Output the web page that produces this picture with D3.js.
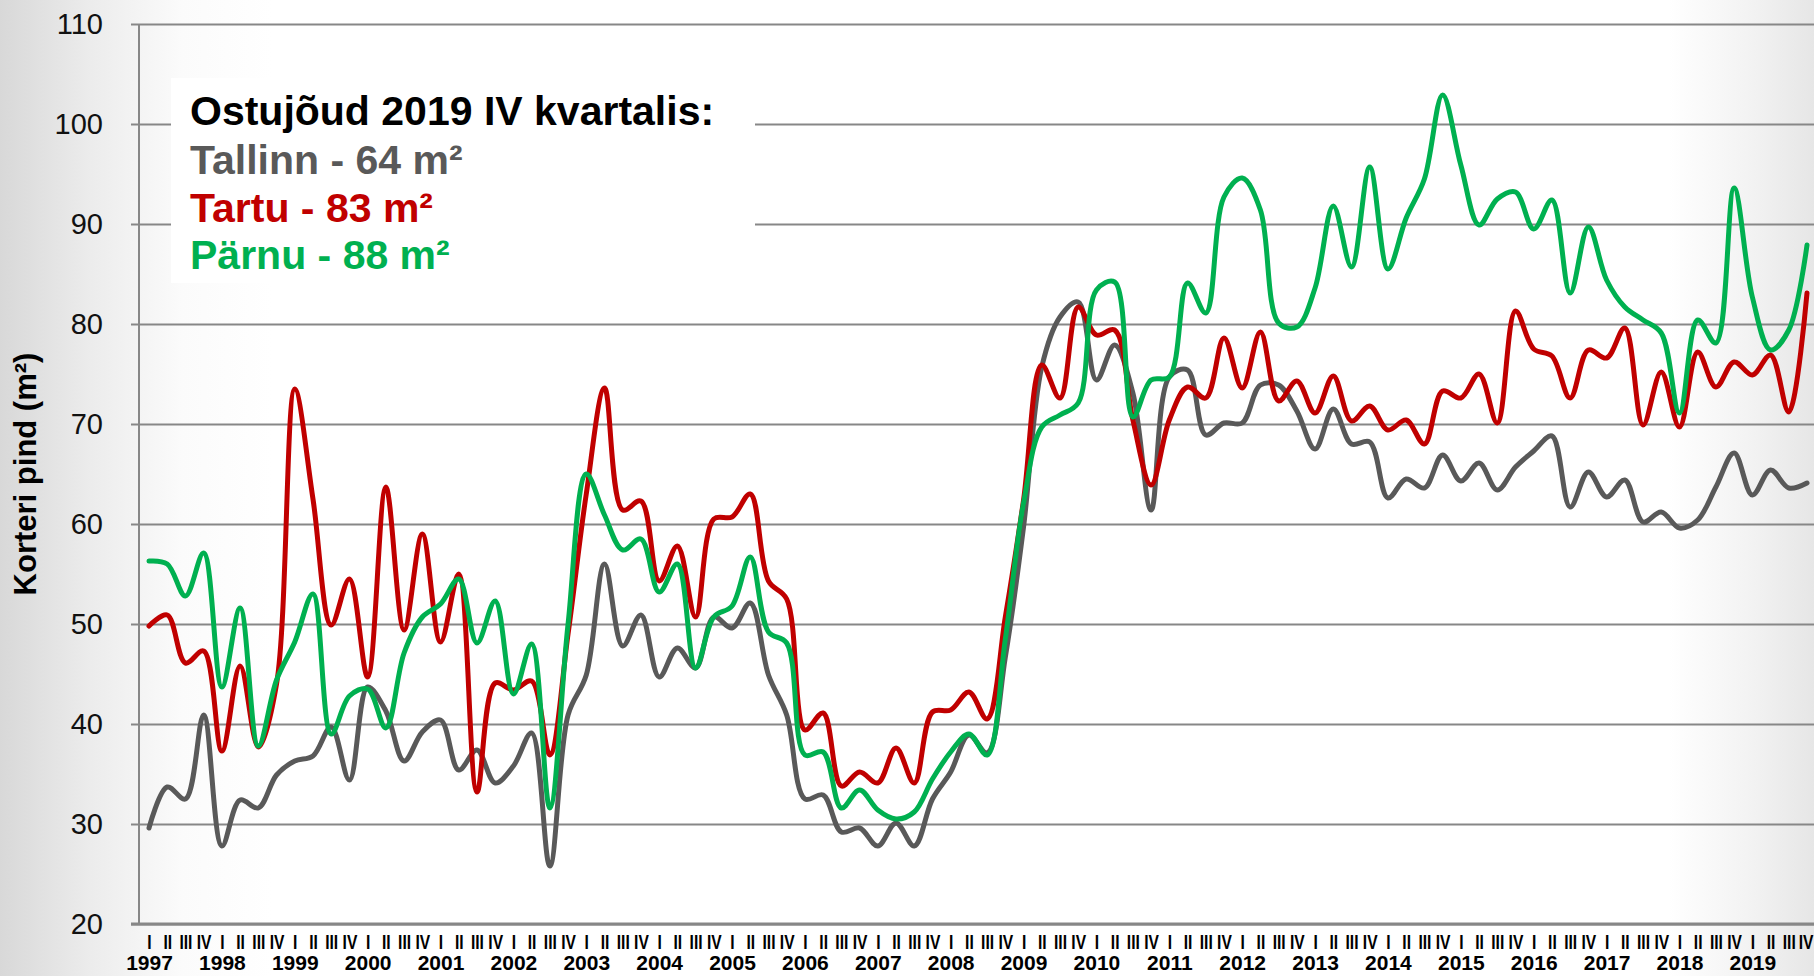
<!DOCTYPE html>
<html><head><meta charset="utf-8">
<script src="https://cdn.jsdelivr.net/npm/d3@7"></script>
<style>html,body{margin:0;padding:0;background:#fff;} svg{display:block;}</style>
</head><body>
<svg id="chart" width="1814" height="976"></svg>
<script>
const years = [1997,1998,1999,2000,2001,2002,2003,2004,2005,2006,2007,2008,2009,2010,2011,2012,2013,2014,2015,2016,2017,2018,2019];
const quarterLabels = ["I","II","III","IV"];
const yTicks = [20,30,40,50,60,70,80,90,100,110];

const tallinn = [29.6,33.7,32.5,40.9, 27.8,32.4,31.6,34.9, 36.3,36.8,39.7,34.4, 43.7,41.3,36.3,39.2,
  40.4,35.4,37.4,34.1, 35.8,39.1,25.8,40.9, 44.9,56.0,47.8,50.9, 44.7,47.6,45.6,50.7,
  49.6,52.1,44.9,40.9, 32.5,32.9,29.2,29.6, 27.8,30.1,27.8,32.5, 35.2,38.9,37.1,46.7,
  59.7,75.7,80.7,82.2, 74.4,77.9,73.1,61.4, 74.7,75.4,68.9,70.1, 70.1,73.9,73.9,71.3,
  67.5,71.5,68.0,68.2, 62.6,64.5,63.6,66.9, 64.3,66.1,63.4,65.7, 67.3,68.8,61.7,65.2,
  62.7,64.4,60.2,61.2, 59.6,60.4,63.7,67.1, 62.9,65.4,63.6,64.1];

const tartu = [49.8,50.9,46.1,47.3, 37.3,45.8,37.7,44.0, 73.5,62.5,49.9,54.5, 44.7,63.7,49.4,59.0,
  48.2,55.0,33.2,44.1, 43.4,44.3,36.9,49.0, 63.0,73.6,61.4,62.3, 54.3,57.8,50.7,60.5,
  60.7,63.0,54.3,52.5, 39.4,41.1,33.8,35.2, 34.1,37.6,34.1,41.2, 41.4,43.2,40.5,50.7,
  62.4,75.9,72.6,81.7, 78.9,79.4,70.4,63.9, 70.4,73.7,72.6,78.6, 73.6,79.2,72.3,74.3,
  71.1,74.8,70.3,71.8, 69.4,70.4,68.0,73.3, 72.6,75.0,70.1,81.3, 77.5,76.8,72.6,77.4,
  76.6,79.6,69.9,75.2, 69.7,77.2,73.7,76.2, 74.9,76.9,71.2,83.1];

const parnu = [56.3,56.0,52.8,57.1, 43.7,51.6,37.8,44.4, 48.2,53.0,39.0,42.8, 43.5,39.6,47.1,50.7,
  52.0,54.5,48.1,52.3, 43.0,48.0,31.6,50.0, 65.0,60.9,57.4,58.5, 53.2,56.0,45.6,50.7,
  51.8,56.7,49.2,48.1, 36.9,37.2,31.6,33.4, 31.4,30.5,31.2,34.5, 37.2,39.0,36.9,48.5,
  62.1,69.7,70.9,72.1, 83.4,84.2,70.7,74.4, 74.7,84.1,81.1,92.7, 94.6,91.4,80.1,79.7,
  83.6,91.8,85.7,95.7, 85.5,90.6,94.5,102.9, 95.9,89.9,92.5,93.2, 89.5,92.4,83.1,89.7,
  84.4,81.7,80.4,79.1, 71.1,80.4,78.1,93.6, 82.7,77.4,79.4,87.9];

const seriesNames = ["Tallinn","Tartu","Pärnu"];
const seriesColors = ["#595959","#C00000","#00B050"];
const legendTitle = "Ostujõud 2019 IV kvartalis:";
const legendItems = ["Tallinn - 64 m²","Tartu - 83 m²","Pärnu - 88 m²"];
const yTitle = "Korteri pind (m²)";

const W = 1814, H = 976;
const svg = d3.select("#chart");
const FONT = "'Liberation Sans', Arial, Helvetica, sans-serif";

// background
const defs = svg.append("defs");
const bg = defs.append("linearGradient").attr("id","bg").attr("x1","0").attr("x2","1").attr("y1","0").attr("y2","0");
[[0,"#d8d8d8"],[0.05,"#ececec"],[0.1,"#fbfbfb"],[0.15,"#ffffff"],[0.92,"#ffffff"],[0.97,"#f1f1f1"],[1,"#e6e6e6"]]
  .forEach(([o,c]) => bg.append("stop").attr("offset",o).attr("stop-color",c));
svg.append("rect").attr("width",W).attr("height",H).attr("fill","url(#bg)");

const x = d3.scaleLinear().domain([0, tallinn.length - 1]).range([149, 1807]);
const y = d3.scaleLinear().domain([20, 110]).range([924, 24]);
const axisX = 139;

// gridlines + y axis labels
const yAxis = d3.axisLeft(y).tickValues(yTicks).tickSize(0).tickFormat(d3.format("d"));
const gy = svg.append("g").attr("transform",`translate(${axisX},0)`).call(yAxis);
gy.select(".domain").remove();
gy.selectAll(".tick line").attr("x1",-8).attr("x2",W - axisX).attr("stroke","#878787").attr("stroke-width",2);
gy.selectAll(".tick text").attr("x",-36).attr("font-family",FONT).attr("font-size",29).attr("fill","#111");

// legend box (covers gridlines)
svg.append("rect").attr("x",171).attr("y",78).attr("width",584).attr("height",205).attr("fill","#fff");

// axis lines
svg.append("line").attr("x1",axisX).attr("x2",axisX).attr("y1",y(110)).attr("y2",y(20)).attr("stroke","#878787").attr("stroke-width",2);
svg.append("line").attr("x1",131).attr("x2",W).attr("y1",y(20)).attr("y2",y(20)).attr("stroke","#878787").attr("stroke-width",3);

// x axis: quarter labels (condensed)
const SX = 0.78;
const xq = d3.axisBottom(x).tickValues(d3.range(tallinn.length)).tickSize(0).tickFormat(i => quarterLabels[i % 4]);
const gq = svg.append("g").attr("transform",`translate(0,${y(20)})`).call(xq);
gq.select(".domain").remove();
gq.selectAll(".tick text").attr("y",11).attr("dy","0.71em").attr("font-family",FONT).attr("font-size",20)
  .attr("font-weight","bold").attr("fill","#000").attr("transform",`scale(${SX},1)`);
// keep the last label inside the canvas
gq.selectAll(".tick").each(function(i){
  const t = d3.select(this).select("text");
  const half = this.querySelector("text").getComputedTextLength() * SX / 2;
  const over = x(i) + half - (W - 1);
  if (over > 0) t.attr("x", -over / SX);
});

// x axis: year labels
const yearIdx = years.map((yr,k) => k * 4);
const xy = d3.axisBottom(x).tickValues(yearIdx).tickSize(0).tickFormat((i) => years[i / 4]);
const gyr = svg.append("g").attr("transform",`translate(0,${y(20)})`).call(xy);
gyr.select(".domain").remove();
gyr.selectAll(".tick text").attr("y",31).attr("dy","0.71em").attr("font-family",FONT).attr("font-size",21).attr("font-weight","bold").attr("fill","#000");

// y title
svg.append("text").attr("transform","translate(36,474) rotate(-90)").attr("text-anchor","middle")
  .attr("font-family",FONT).attr("font-size",31).attr("font-weight","bold").attr("fill","#000").text(yTitle);

// lines
const line = d3.line().x((d,i) => x(i)).y(d => y(d)).curve(d3.curveCatmullRom.alpha(0.5));
[tallinn, tartu, parnu].forEach((s,k) => {
  svg.append("path").datum(s).attr("d",line).attr("fill","none")
    .attr("stroke",seriesColors[k]).attr("stroke-width",5).attr("stroke-linejoin","round").attr("stroke-linecap","round");
});

// legend text
const lg = svg.append("g").attr("font-family",FONT).attr("font-weight","bold").attr("font-size",41);
lg.append("text").attr("x",190).attr("y",125).attr("fill","#000").text(legendTitle);
legendItems.forEach((t,k) => {
  lg.append("text").attr("x",190).attr("y",174 + k * 47.5).attr("fill",seriesColors[k]).text(t);
});
</script>
</body></html>
